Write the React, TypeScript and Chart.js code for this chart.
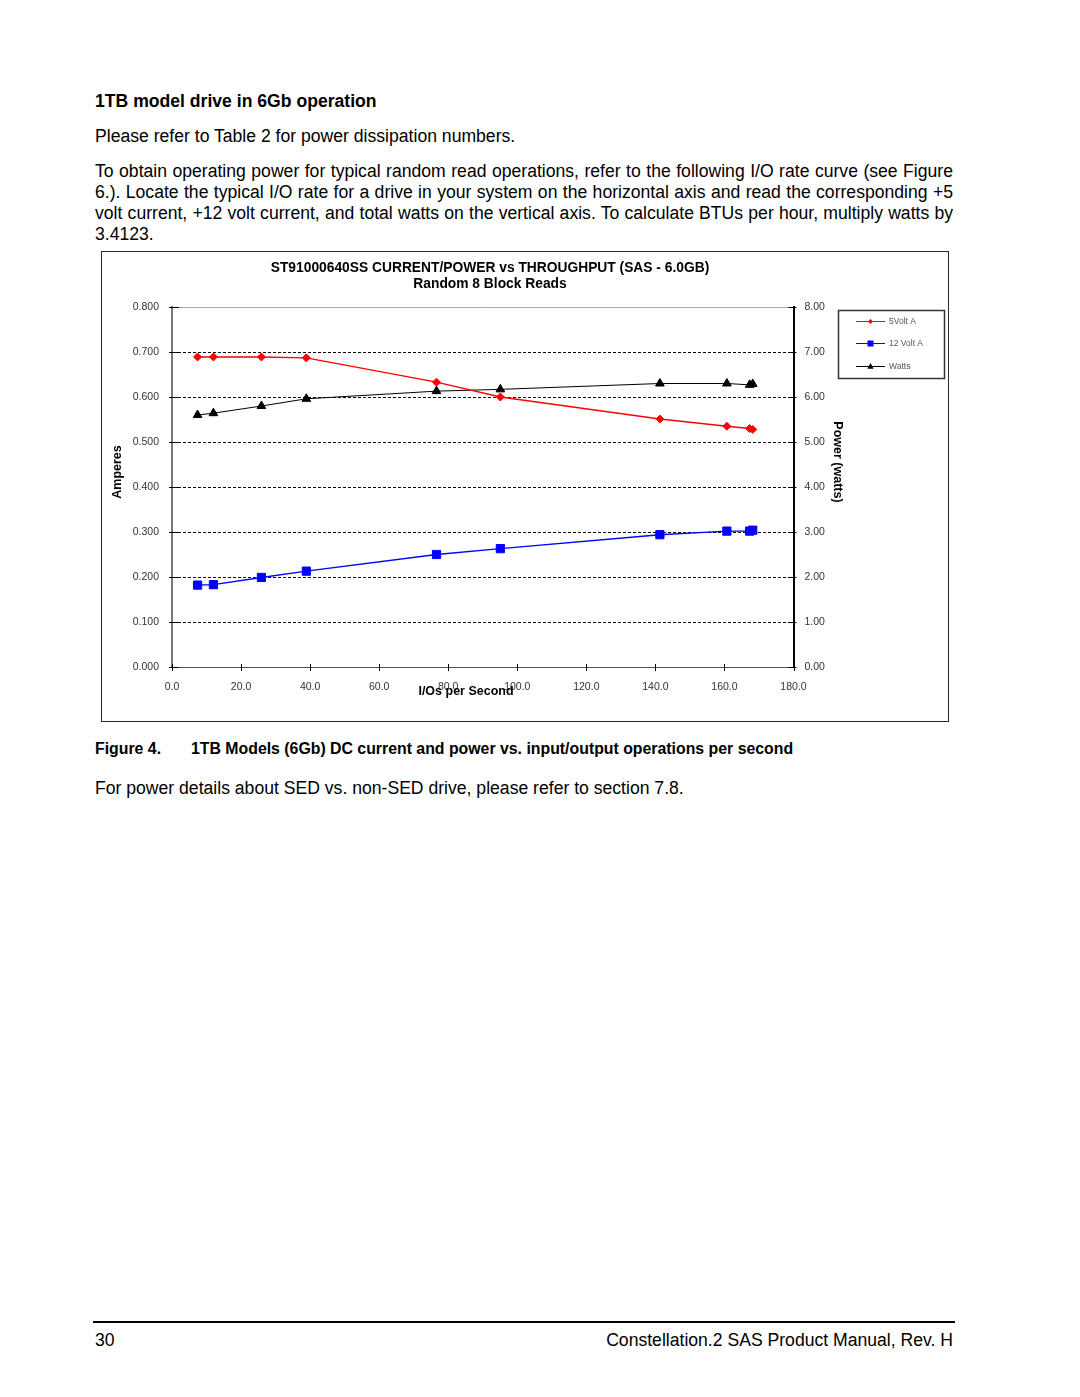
import React, { useEffect, useRef } from 'react';
import { Chart, registerables } from 'chart.js';

Chart.register(...registerables);

// ---------- data ----------
const ioRate = [7.4, 12.0, 25.9, 38.9, 76.6, 95.1, 141.3, 160.7, 167.3, 168.2];
const volt5Amps = [0.689, 0.689, 0.689, 0.687, 0.633, 0.6, 0.551, 0.535, 0.53, 0.528];
const volt12Amps = [0.182, 0.183, 0.199, 0.213, 0.25, 0.263, 0.294, 0.302, 0.302, 0.304];
const watts = [5.6, 5.64, 5.8, 5.96, 6.13, 6.17, 6.3, 6.3, 6.27, 6.29];
const seriesLabels = ['5Volt A', '12 Volt A', 'Watts'];
const titleLines = ['ST91000640SS CURRENT/POWER vs THROUGHPUT (SAS - 6.0GB)', 'Random 8 Block Reads'];
const xTitle = 'I/Os per Second';
const yTitle = 'Amperes';
const y1Title = 'Power (watts)';

const FONT = '"Liberation Sans", Arial, Helvetica, sans-serif';

const decorPlugin = {
  id: 'decor',
  afterDraw(chart: any) {
    const { ctx, chartArea: a, scales } = chart;
    ctx.save();
    // top frame line
    ctx.strokeStyle = '#a8a8a8';
    ctx.lineWidth = 1;
    ctx.beginPath();
    ctx.moveTo(a.left, Math.round(a.top) + 0.5);
    ctx.lineTo(a.right, Math.round(a.top) + 0.5);
    ctx.stroke();

    // tick marks
    ctx.strokeStyle = '#000';
    ctx.lineWidth = 1;
    ctx.beginPath();
    scales.y.ticks.forEach((t: any) => {
      const py = Math.round(scales.y.getPixelForValue(t.value)) + 0.5;
      ctx.moveTo(a.left - 3, py);
      ctx.lineTo(a.left + 7, py);
    });
    scales.y1.ticks.forEach((t: any) => {
      const py = Math.round(scales.y1.getPixelForValue(t.value)) + 0.5;
      ctx.moveTo(a.right - 5, py);
      ctx.lineTo(a.right + 3, py);
    });
    scales.x.ticks.forEach((t: any) => {
      const px = Math.round(scales.x.getPixelForValue(t.value)) + 0.5;
      ctx.moveTo(px, a.bottom - 3);
      ctx.lineTo(px, a.bottom + 4);
    });
    ctx.stroke();

    // chart title
    ctx.fillStyle = '#000';
    ctx.textAlign = 'center';
    ctx.textBaseline = 'middle';
    ctx.font = `bold 13.8px ${FONT}`;
    ctx.fillText(titleLines[0], 387, 16);
    ctx.fillText(titleLines[1], 387, 32);

    // axis titles
    ctx.font = `bold 12.5px ${FONT}`;
    ctx.fillText(xTitle, 363, 440);
    ctx.save();
    ctx.translate(15, 220);
    ctx.rotate(-Math.PI / 2);
    ctx.fillText(yTitle, 0, 0);
    ctx.restore();
    ctx.save();
    ctx.translate(734, 210);
    ctx.rotate(Math.PI / 2);
    ctx.fillText(y1Title, 0, 0);
    ctx.restore();

    // legend
    const lx = 735, ly = 58, lw = 106, lh = 68;
    ctx.strokeStyle = '#333';
    ctx.lineWidth = 1.5;
    ctx.strokeRect(lx + 0.5, ly + 0.5, lw, lh);
    const rows = [69, 91, 114];
    ctx.font = `8.5px ${FONT}`;
    ctx.textAlign = 'left';
    chart.data.datasets.forEach((ds: any, i: number) => {
      const y = rows[i] + 0.5;
      ctx.strokeStyle = ds.borderColor;
      ctx.lineWidth = 1;
      ctx.beginPath();
      ctx.moveTo(753, y);
      ctx.lineTo(782, y);
      ctx.stroke();
      ctx.fillStyle = ds.borderColor;
      const cx = 767.5;
      ctx.beginPath();
      if (ds.pointStyle === 'rectRot') {
        ctx.moveTo(cx - 2.5, y);
        ctx.lineTo(cx, y - 2.5);
        ctx.lineTo(cx + 2.5, y);
        ctx.lineTo(cx, y + 2.5);
      } else if (ds.pointStyle === 'rect') {
        ctx.rect(cx - 3, y - 3, 6, 6);
      } else {
        ctx.moveTo(cx, y - 3.5);
        ctx.lineTo(cx + 3.2, y + 2.2);
        ctx.lineTo(cx - 3.2, y + 2.2);
      }
      ctx.closePath();
      ctx.fill();
      ctx.fillStyle = '#555';
      ctx.fillText(ds.label, 786, y);
    });
    ctx.restore();
  },
};

function ChartBox() {
  const ref = useRef<HTMLCanvasElement | null>(null);
  useEffect(() => {
    if (!ref.current) return;
    const mk = (arr: number[]) => ioRate.map((x, i) => ({ x, y: arr[i] }));
    const chart = new Chart(ref.current, {
      type: 'line',
      data: {
        datasets: [
          {
            label: seriesLabels[0],
            data: mk(volt5Amps),
            yAxisID: 'y',
            borderColor: '#ff0000',
            backgroundColor: '#ff0000',
            borderWidth: 1.4,
            pointStyle: 'rectRot',
            pointRadius: 4,
            pointBorderWidth: 1,
          },
          {
            label: seriesLabels[1],
            data: mk(volt12Amps),
            yAxisID: 'y',
            borderColor: '#0000ff',
            backgroundColor: '#0000ff',
            borderWidth: 1.4,
            pointStyle: 'rect',
            pointRadius: 5.8,
            pointBorderWidth: 1,
          },
          {
            label: seriesLabels[2],
            data: mk(watts),
            yAxisID: 'y1',
            borderColor: '#000000',
            backgroundColor: '#000000',
            borderWidth: 1,
            pointStyle: 'triangle',
            pointRadius: 5,
            pointBorderWidth: 1,
          },
        ],
      },
      options: {
        animation: false,
        responsive: false,
        layout: { padding: { top: 55, left: 0, right: 0, bottom: 0 } },
        plugins: { legend: { display: false }, title: { display: false }, tooltip: { enabled: false } },
        scales: {
          x: {
            type: 'linear',
            min: 0,
            max: 180,
            afterFit: (s: any) => { s.height = 54; },
            ticks: {
              stepSize: 20,
              autoSkip: false,
              maxRotation: 0,
              padding: 14,
              color: '#333',
              font: { family: FONT, size: 10.5 },
              callback: (v: any) => Number(v).toFixed(1),
            },
            grid: { display: false, drawTicks: false },
            border: { display: true, color: '#555', width: 1 },
          },
          y: {
            type: 'linear',
            position: 'left',
            min: 0,
            max: 0.8,
            afterFit: (s: any) => { s.width = 69; },
            ticks: {
              stepSize: 0.1,
              padding: 13,
              color: '#333',
              font: { family: FONT, size: 10.5 },
              callback: (v: any) => Number(v).toFixed(3),
            },
            grid: {
              drawTicks: false,
              color: (c: any) => (c.tick && (c.tick.value < 0.01 || c.tick.value > 0.79) ? 'rgba(0,0,0,0)' : '#000'),
              lineWidth: 1,
            },
            border: { display: true, color: '#7a7a7a', width: 2, dash: [3, 2] },
          },
          y1: {
            type: 'linear',
            position: 'right',
            min: 0,
            max: 8,
            afterFit: (s: any) => { s.width = 155.5; },
            ticks: {
              stepSize: 1,
              padding: 11,
              color: '#333',
              font: { family: FONT, size: 10.5 },
              callback: (v: any) => Number(v).toFixed(2),
            },
            grid: { display: false, drawTicks: false },
            border: { display: true, color: '#000', width: 2 },
          },
        },
      } as any,
      plugins: [decorPlugin],
    });
    return () => chart.destroy();
  }, []);
  return <canvas ref={ref} width={846} height={469} style={{ width: 846, height: 469, display: 'block' }} />;
}

const base: React.CSSProperties = {
  position: 'absolute',
  whiteSpace: 'nowrap',
  lineHeight: '21px',
  fontSize: '17.6px',
  fontFamily: FONT,
  color: '#000',
  margin: 0,
};

const justLine: React.CSSProperties = {
  ...base,
  width: 858,
  textAlign: 'justify',
  textAlignLast: 'justify' as any,
  whiteSpace: 'normal',
  height: 21,
  overflow: 'hidden',
};

export default function App() {
  return (
    <div style={{ position: 'absolute', left: 0, top: 0, width: 1080, height: 1397, background: '#fff', overflow: 'hidden' }}>
      <div style={{ ...base, left: 95, top: 90.5, fontWeight: 'bold' }}>1TB model drive in 6Gb operation</div>
      <div style={{ ...base, left: 95, top: 125.5 }}>Please refer to Table 2 for power dissipation numbers.</div>
      <div style={{ ...justLine, left: 95, top: 160.5 }}>To obtain operating power for typical random read operations, refer to the following I/O rate curve (see Figure</div>
      <div style={{ ...justLine, left: 95, top: 181.5 }}>6.). Locate the typical I/O rate for a drive in your system on the horizontal axis and read the corresponding +5</div>
      <div style={{ ...justLine, left: 95, top: 202.5 }}>volt current, +12 volt current, and total watts on the vertical axis. To calculate BTUs per hour, multiply watts by</div>
      <div style={{ ...base, left: 95, top: 223.5 }}>3.4123.</div>

      <div style={{ position: 'absolute', left: 101, top: 250.5, width: 846, height: 469, border: '1.5px solid #2a2a2a', padding: 0 }}>
        <div style={{ position: 'absolute', left: 0.5, top: 0 }}>
          <ChartBox />
        </div>
      </div>

      <div style={{ ...base, left: 95, top: 737.5, fontWeight: 'bold', fontSize: '15.85px' }}>Figure 4.</div>
      <div style={{ ...base, left: 191, top: 737.5, fontWeight: 'bold', fontSize: '15.85px' }}>1TB Models (6Gb) DC current and power vs. input/output operations per second</div>
      <div style={{ ...base, left: 95, top: 777.5 }}>For power details about SED vs. non-SED drive, please refer to section 7.8.</div>

      <div style={{ position: 'absolute', left: 93, top: 1321, width: 862, height: 2, background: '#000' }} />
      <div style={{ ...base, left: 95, top: 1329.5 }}>30</div>
      <div style={{ ...base, right: 1080 - 953, top: 1329.5 }}>Constellation.2 SAS Product Manual, Rev. H</div>
    </div>
  );
}
